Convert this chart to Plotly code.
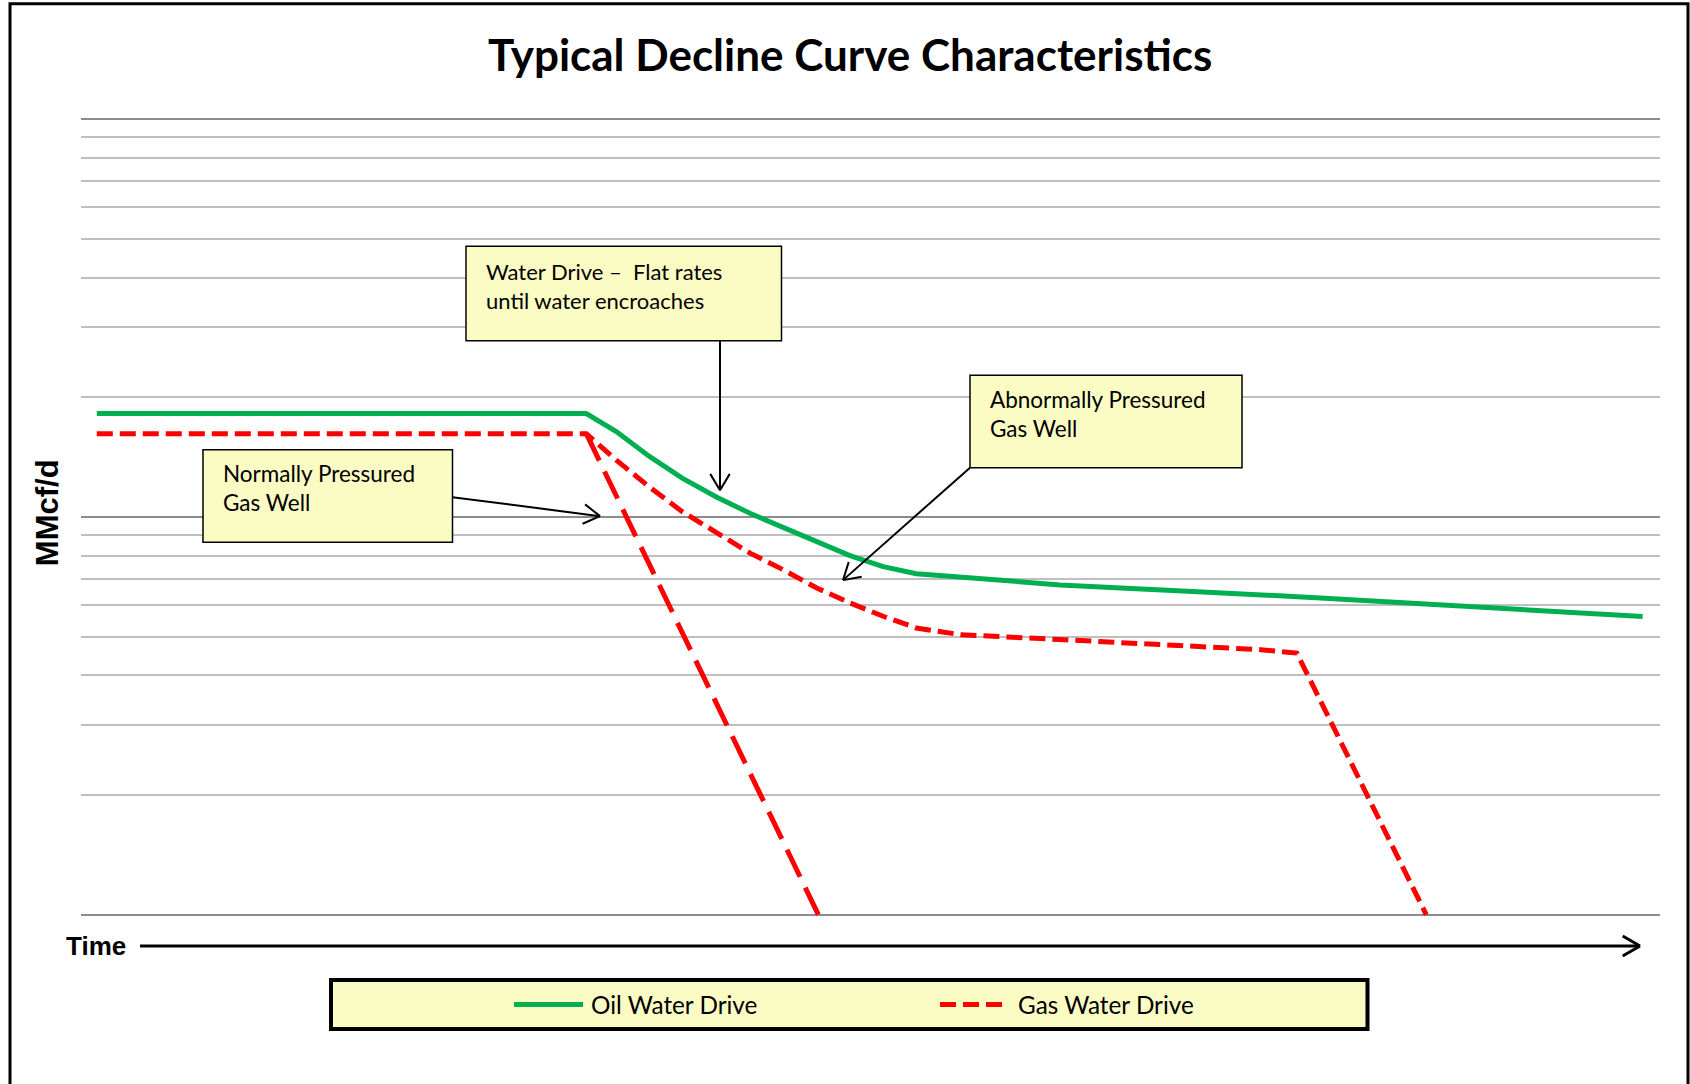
import math
import plotly.graph_objects as go

# ---------------- data ----------------
chart_title = "Typical Decline Curve Characteristics"
y_label = "MMcf/d"
x_label = "Time"
legend_labels = ["Oil Water Drive", "Gas Water Drive"]

# Oil water drive (green solid)
oil_t = [1.0, 32.0, 33.9, 36.0, 38.1, 40.3, 42.4, 44.5, 46.6, 48.7, 50.8, 52.9, 55.0, 62.0, 70.4, 78.5, 98.9]
oil_q = [18.2, 18.2, 16.4, 14.2, 12.5, 11.2, 10.2, 9.4, 8.7, 8.0, 7.5, 7.2, 7.1, 6.75, 6.5, 6.26, 5.62]

# Gas water drive - abnormally pressured (red dashed)
gas_t = [1.0, 32.0, 33.9, 36.0, 38.1, 40.3, 42.4, 44.5, 46.6, 48.7, 50.8, 52.9, 55.0, 55.7, 62.0, 68.3, 74.7, 77.0, 85.2]
gas_q = [16.2, 16.2, 13.9, 11.9, 10.3, 9.1, 8.1, 7.36, 6.63, 6.08, 5.63, 5.26, 5.11, 5.06, 4.92, 4.78, 4.64, 4.55, 1.0]

# Gas water drive - normally pressured (red long dash)
gas_norm_t = [32.0, 46.7]
gas_norm_q = [16.2, 1.0]

annotation_texts = [
    "Water Drive \u2013  Flat rates<br>until water encroaches",
    "Normally Pressured<br>Gas Well",
    "Abnormally Pressured<br>Gas Well",
]

# ---------------- layout geometry ----------------
W, H = 1690, 1084
# plot area in screen coordinates
PL, PR, PT, PB = 81, 1660, 117.7, 916

GREEN = "#00B050"
RED = "#FF0000"
BOXFILL = "#FBFBC4"
FONT = "Lato"


def px(x):
    return (x - PL) / (PR - PL)


def py(y):
    return (PB - y) / (PB - PT)


shapes = []


def line(x0, y0, x1, y1, width=2, color="black"):
    shapes.append(dict(type="line", xref="paper", yref="paper",
                       x0=px(x0), y0=py(y0), x1=px(x1), y1=py(y1),
                       line=dict(color=color, width=width)))


def arrow(x0, y0, x1, y1, width=2, head=19, ang=31):
    line(x0, y0, x1, y1, width)
    L = math.hypot(x1 - x0, y1 - y0)
    dx, dy = (x1 - x0) / L, (y1 - y0) / L
    for s in (1, -1):
        a = math.radians(ang) * s
        rx = dx * math.cos(a) - dy * math.sin(a)
        ry = dx * math.sin(a) + dy * math.cos(a)
        line(x1, y1, x1 - head * rx, y1 - head * ry, width)


def rect(x0, y0, x1, y1, fill, width=1.5):
    shapes.append(dict(type="rect", xref="paper", yref="paper",
                       x0=px(x0), y0=py(y1), x1=px(x1), y1=py(y0),
                       fillcolor=fill, line=dict(color="black", width=width)))


# outer frame
shapes.append(dict(type="rect", xref="paper", yref="paper",
                   x0=px(10), x1=px(1688), y0=py(1110), y1=py(3.5),
                   line=dict(color="black", width=3), fillcolor="rgba(0,0,0,0)",
                   layer="below"))

# callout boxes
rect(466, 246, 781.5, 340.5, BOXFILL)
rect(203, 449.5, 452.5, 542, BOXFILL)
rect(970, 375, 1242, 467.5, BOXFILL)

# callout arrows
arrow(720, 341, 720, 490)
arrow(452.5, 497, 600, 516)
arrow(970, 467.5, 843, 580)

# time arrow
arrow(140, 946, 1640, 946, width=3, head=20, ang=30)

# legend box + samples
rect(331, 980, 1367.5, 1029, BOXFILL, width=4)
line(514, 1004.5, 583, 1004.5, width=5, color=GREEN)
shapes.append(dict(type="line", xref="paper", yref="paper",
                   x0=px(940), y0=py(1004.5), x1=px(1002), y1=py(1004.5),
                   line=dict(color=RED, width=5, dash="16px,7px")))

fig = go.Figure()
fig.add_trace(go.Scatter(x=oil_t, y=oil_q, mode="lines", name=legend_labels[0],
                         line=dict(color=GREEN, width=5), showlegend=False))
fig.add_trace(go.Scatter(x=gas_t, y=gas_q, mode="lines", name=legend_labels[1],
                         line=dict(color=RED, width=5, dash="16px,7px"), showlegend=False))
fig.add_trace(go.Scatter(x=gas_norm_t, y=gas_norm_q, mode="lines", name=legend_labels[1],
                         line=dict(color=RED, width=5, dash="30px,12px"), showlegend=False))

annotations = [
    dict(text=chart_title, xref="paper", yref="paper", x=px(850), y=py(54),
         xanchor="center", yanchor="middle", showarrow=False,
         font=dict(family=FONT, size=44, color="black", weight=700)),
    dict(text=y_label, xref="paper", yref="paper", x=px(47), y=py(513),
         xanchor="center", yanchor="middle", showarrow=False, textangle=-90,
         font=dict(family="Liberation Sans", size=31, color="black", weight=700)),
    dict(text=x_label, xref="paper", yref="paper", x=px(64), y=py(946),
         xanchor="left", yanchor="middle", showarrow=False,
         font=dict(family="Liberation Sans", size=26, color="black", weight=700)),
    dict(text=annotation_texts[0], xref="paper", yref="paper", x=px(484), y=py(286),
         xanchor="left", yanchor="middle", showarrow=False, align="left",
         font=dict(family=FONT, size=22, color="black")),
    dict(text=annotation_texts[1], xref="paper", yref="paper", x=px(221), y=py(488),
         xanchor="left", yanchor="middle", showarrow=False, align="left",
         font=dict(family=FONT, size=22.5, color="black")),
    dict(text=annotation_texts[2], xref="paper", yref="paper", x=px(988), y=py(414),
         xanchor="left", yanchor="middle", showarrow=False, align="left",
         font=dict(family=FONT, size=22.5, color="black")),
    dict(text=legend_labels[0], xref="paper", yref="paper", x=px(589), y=py(1004.5),
         xanchor="left", yanchor="middle", showarrow=False,
         font=dict(family=FONT, size=24.3, color="black")),
    dict(text=legend_labels[1], xref="paper", yref="paper", x=px(1016), y=py(1004.5),
         xanchor="left", yanchor="middle", showarrow=False,
         font=dict(family=FONT, size=24.3, color="black")),
]

fig.update_layout(
    width=W, height=H,
    margin=dict(l=PL, r=W - PR, t=PT, b=H - PB, pad=0),
    paper_bgcolor="white", plot_bgcolor="white",
    showlegend=False,
    shapes=shapes,
    annotations=annotations,
    xaxis=dict(range=[0, 100], showgrid=False, zeroline=False, showticklabels=False,
               showline=False, ticks=""),
    yaxis=dict(type="log", range=[-0.003, 2.003], dtick=1, showticklabels=False, ticks="",
               showline=False, zeroline=False,
               showgrid=True, gridcolor="#8C8C8C", gridwidth=2,
               minor=dict(dtick="D1", showgrid=True, gridcolor="#BFBFBF", gridwidth=2, ticks="")),
)

fig.write_html("out.html",
               config={"displayModeBar": False},
               post_script="document.body.style.margin='0';document.body.style.overflow='hidden';")
